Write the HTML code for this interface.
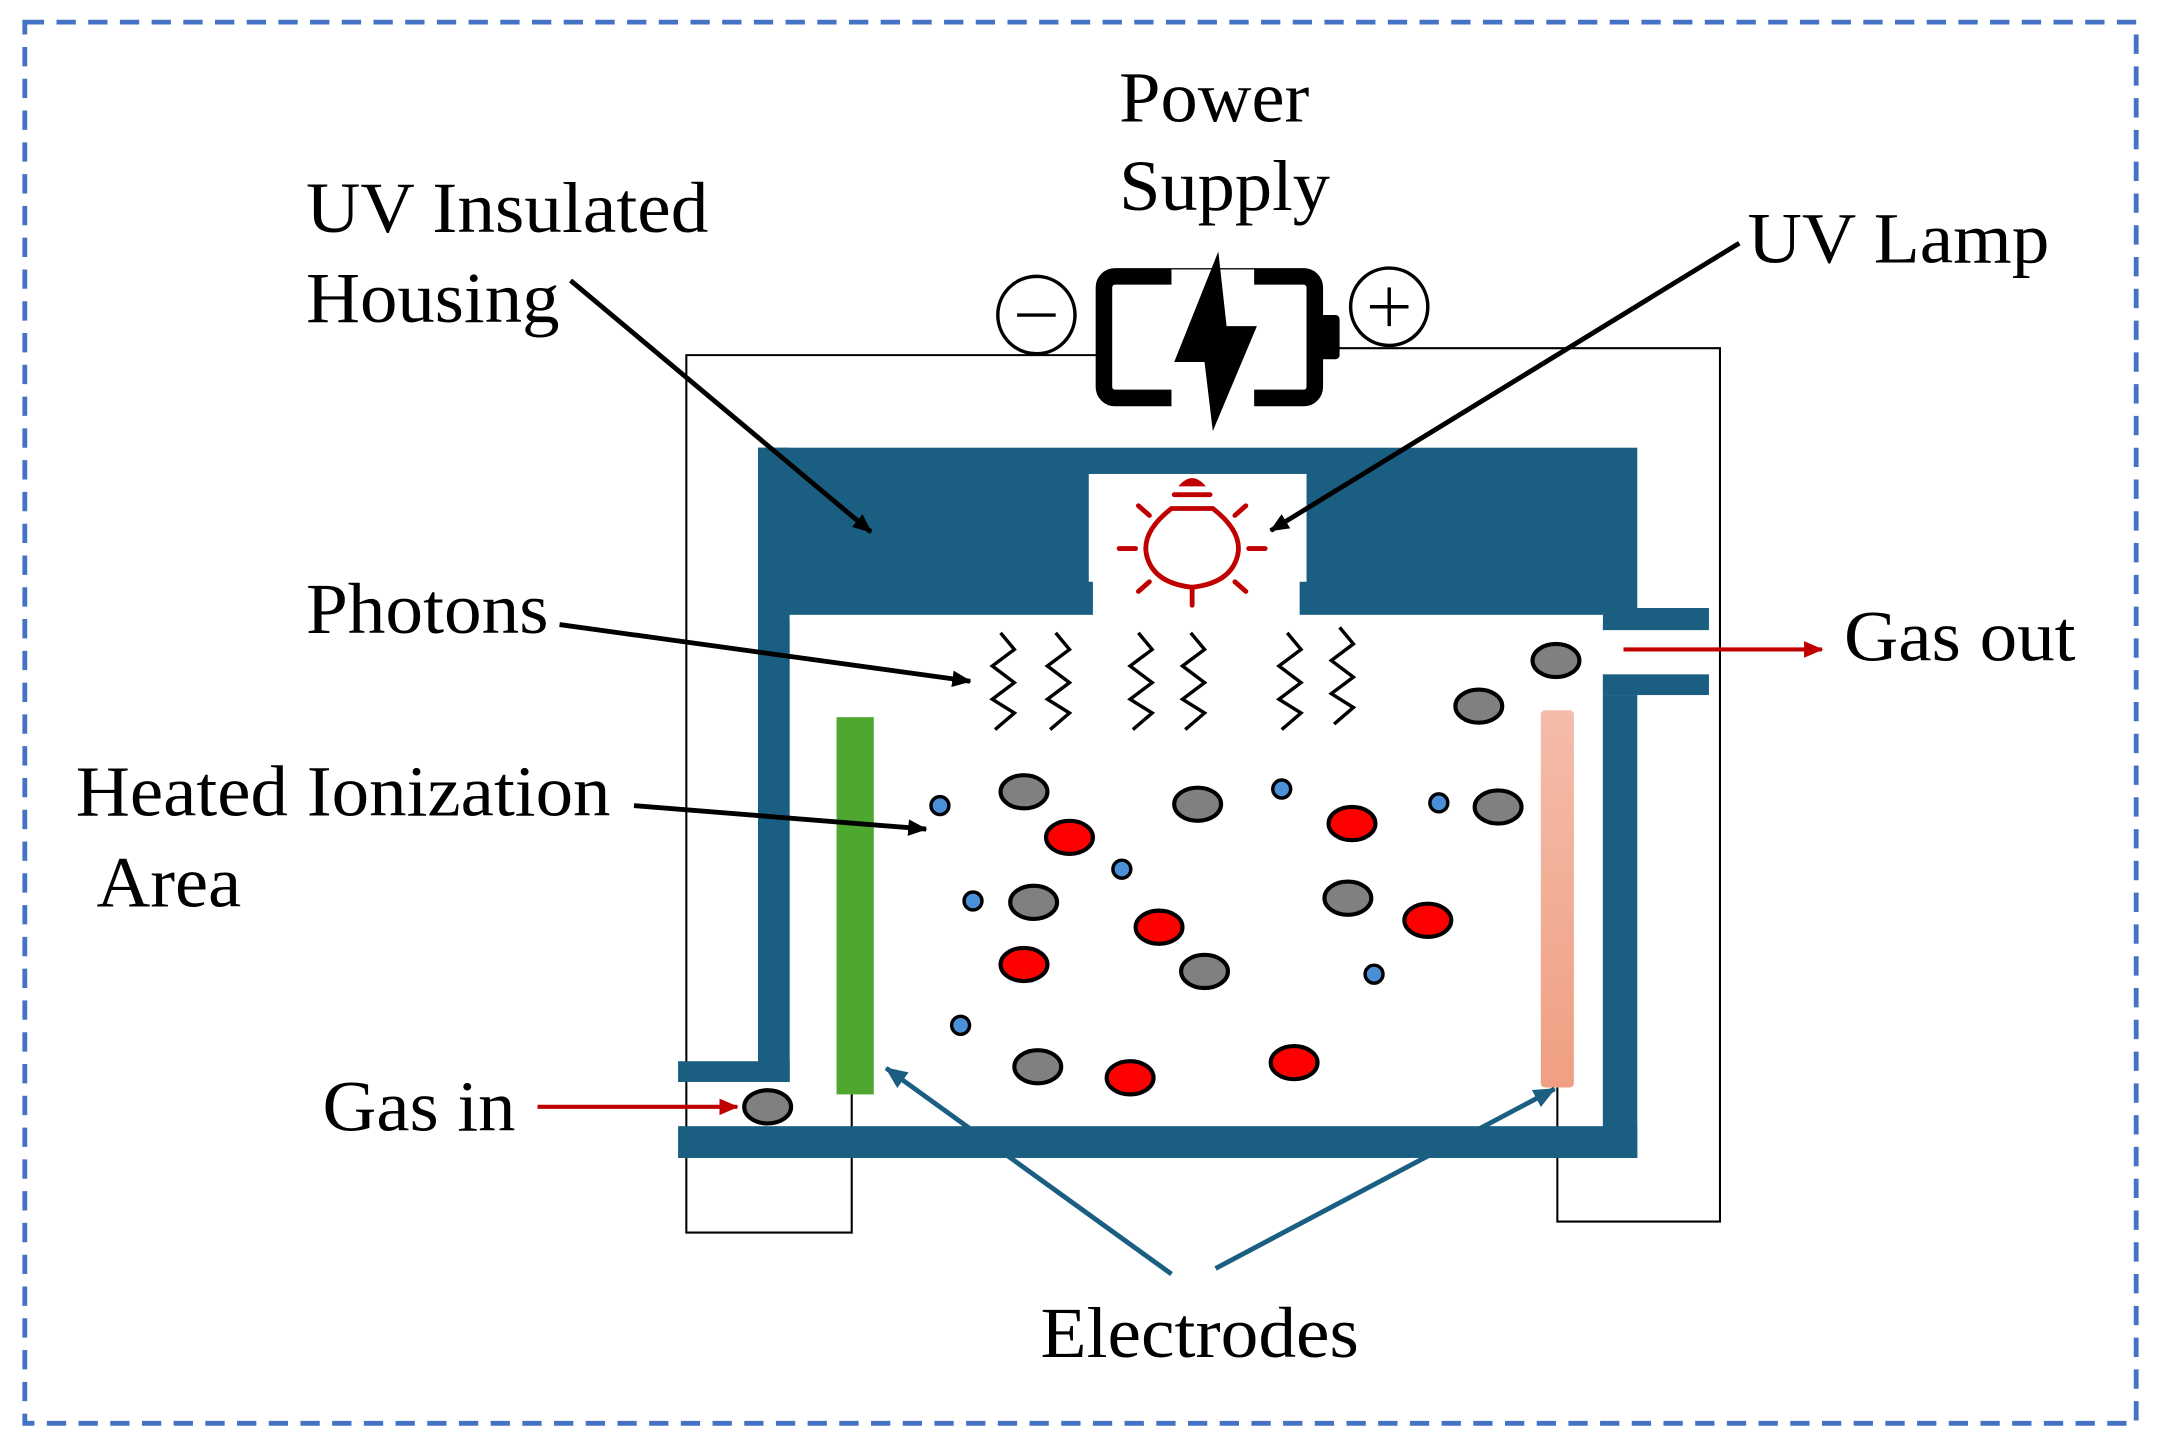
<!DOCTYPE html>
<html><head><meta charset="utf-8"><style>
html,body{margin:0;padding:0;background:#fff;}
svg{display:block;}
text{font-family:"Liberation Serif",serif;font-size:52px;fill:#000;}
</style></head><body>
<svg width="2161" height="1444" viewBox="0 0 1568 1045" preserveAspectRatio="none" xmlns="http://www.w3.org/2000/svg">
<defs>
<marker id="ab" markerWidth="14" markerHeight="12" refX="13" refY="6" orient="auto" markerUnits="userSpaceOnUse"><path d="M0,0 L14,6 L0,12 z" fill="#000"/></marker>
<marker id="ar" markerWidth="14" markerHeight="12" refX="13" refY="6" orient="auto" markerUnits="userSpaceOnUse"><path d="M0,0 L14,6 L0,12 z" fill="#c00000"/></marker>
<marker id="abl" markerWidth="16" markerHeight="14" refX="15" refY="7" orient="auto" markerUnits="userSpaceOnUse"><path d="M0,0 L16,7 L0,14 z" fill="#1a5f82"/></marker>
<linearGradient id="pg" x1="0" y1="0" x2="0" y2="1"><stop offset="0" stop-color="#f4bcaa"/><stop offset="1" stop-color="#f09f82"/></linearGradient>
</defs>
<rect x="18" y="16" width="1532" height="1014" fill="none" stroke="#4472C4" stroke-width="3.5" stroke-dasharray="14,9"/>
<g fill="none" stroke="#000" stroke-width="1.5">
<polyline points="798,257 498,257 498,892 618,892 618,790"/>
<polyline points="960,252 1248,252 1248,884 1130,884 1130,785"/>
</g>
<g fill="#1a5f82">
<rect x="550" y="324" width="638" height="121"/>
<rect x="550" y="324" width="23" height="459"/>
<rect x="492" y="768" width="81" height="15"/>
<rect x="492" y="815" width="696" height="23"/>
<rect x="1163" y="503" width="25" height="335"/>
<rect x="1163" y="440" width="77" height="16"/>
<rect x="1163" y="488" width="77" height="15"/>
</g>
<rect x="790" y="343" width="158" height="78" fill="#fff"/>
<rect x="793" y="420" width="150" height="26" fill="#fff"/>
<rect x="573" y="445" width="590" height="5" fill="#fff"/>
<g stroke="#c00000" stroke-width="3.5" fill="none" stroke-linecap="round">
<path d="M850,368 L880,368 Q902,385 898,402 Q893,422 865,425 Q837,422 832,402 Q828,385 850,368 z"/>
<line x1="852" y1="358" x2="878" y2="358"/>
<line x1="865" y1="425" x2="865" y2="438"/>
<line x1="812" y1="397" x2="824" y2="397"/><line x1="906" y1="397" x2="918" y2="397"/>
<line x1="826" y1="366" x2="834" y2="373"/><line x1="904" y1="366" x2="896" y2="373"/>
<line x1="826" y1="428" x2="834" y2="421"/><line x1="904" y1="428" x2="896" y2="421"/>
</g>
<path d="M855,352 Q865,340 875,352 z" fill="#c00000"/>
<rect x="801" y="200" width="153" height="88" rx="8" fill="none" stroke="#000" stroke-width="12"/>
<rect x="954" y="228" width="18" height="32" rx="3" fill="#000"/>
<rect x="850" y="195" width="60" height="100" fill="#fff"/>
<path d="M884,182 L852,262 L874,262 L880,312 L912,236 L890,236 z" fill="#000"/>
<circle cx="752" cy="228" r="28" fill="#fff" stroke="#000" stroke-width="2.5"/>
<line x1="738" y1="228" x2="766" y2="228" stroke="#000" stroke-width="2.5"/>
<circle cx="1008" cy="222" r="28" fill="#fff" stroke="#000" stroke-width="2.5"/>
<line x1="994" y1="222" x2="1022" y2="222" stroke="#000" stroke-width="2.5"/>
<line x1="1008" y1="208" x2="1008" y2="236" stroke="#000" stroke-width="2.5"/>
<rect x="607" y="519" width="27" height="273" fill="#4ea72e"/>
<rect x="1118" y="514" width="24" height="273" rx="3" fill="url(#pg)"/>
<g fill="none" stroke="#000" stroke-width="2.5">
<polyline points="726,458 736,470 720,482 736,494 720,506 736,516 722,528"/>
<polyline points="766,458 776,470 760,482 776,494 760,506 776,516 762,528"/>
<polyline points="826,458 836,470 820,482 836,494 820,506 836,516 822,528"/>
<polyline points="864,458 874,470 858,482 874,494 858,506 874,516 860,528"/>
<polyline points="934,458 944,470 928,482 944,494 928,506 944,516 930,528"/>
<polyline points="972,454 982,466 966,478 982,490 966,502 982,512 968,524"/>
</g>
<g fill="#808080" stroke="#000" stroke-width="3">
<ellipse cx="743" cy="573" rx="17" ry="12"/><ellipse cx="869" cy="582" rx="17" ry="12"/>
<ellipse cx="1087" cy="584" rx="17" ry="12"/><ellipse cx="750" cy="653" rx="17" ry="12"/>
<ellipse cx="978" cy="650" rx="17" ry="12"/><ellipse cx="874" cy="703" rx="17" ry="12"/>
<ellipse cx="753" cy="772" rx="17" ry="12"/><ellipse cx="1073" cy="511" rx="17" ry="12"/>
<ellipse cx="1129" cy="478" rx="17" ry="12"/><ellipse cx="557" cy="801" rx="17" ry="12"/>
</g>
<g fill="#ff0000" stroke="#000" stroke-width="3">
<ellipse cx="776" cy="606" rx="17" ry="12"/><ellipse cx="981" cy="596" rx="17" ry="12"/>
<ellipse cx="841" cy="671" rx="17" ry="12"/><ellipse cx="1036" cy="666" rx="17" ry="12"/>
<ellipse cx="743" cy="698" rx="17" ry="12"/><ellipse cx="820" cy="780" rx="17" ry="12"/>
<ellipse cx="939" cy="769" rx="17" ry="12"/>
</g>
<g fill="#4a90d9" stroke="#000" stroke-width="2.5">
<circle cx="682" cy="583" r="6.5"/><circle cx="930" cy="571" r="6.5"/><circle cx="1044" cy="581" r="6.5"/>
<circle cx="814" cy="629" r="6.5"/><circle cx="706" cy="652" r="6.5"/><circle cx="997" cy="705" r="6.5"/>
<circle cx="697" cy="742" r="6.5"/>
</g>
<g stroke="#000" stroke-width="3.5" marker-end="url(#ab)">
<line x1="414" y1="203" x2="632" y2="385"/>
<line x1="406" y1="452" x2="704" y2="493"/>
<line x1="460" y1="583" x2="672" y2="600"/>
<line x1="1262" y1="176" x2="922" y2="384"/>
</g>
<g stroke="#c00000" stroke-width="3" marker-end="url(#ar)">
<line x1="390" y1="801" x2="535" y2="801"/>
<line x1="1178" y1="470" x2="1322" y2="470"/>
</g>
<g stroke="#1a5f82" stroke-width="3.5" marker-end="url(#abl)">
<line x1="850" y1="922" x2="643" y2="773"/>
<line x1="882" y1="918" x2="1128" y2="788"/>
</g>
<g lengthAdjust="spacingAndGlyphs">
<text x="812" y="88" textLength="138" lengthAdjust="spacingAndGlyphs">Power</text>
<text x="812" y="152" textLength="153" lengthAdjust="spacingAndGlyphs">Supply</text>
<text x="222" y="168" textLength="292" lengthAdjust="spacingAndGlyphs">UV Insulated</text>
<text x="222" y="233" textLength="184" lengthAdjust="spacingAndGlyphs">Housing</text>
<text x="1268" y="190" textLength="219" lengthAdjust="spacingAndGlyphs">UV Lamp</text>
<text x="222" y="458" textLength="176" lengthAdjust="spacingAndGlyphs">Photons</text>
<text x="55" y="590" textLength="388" lengthAdjust="spacingAndGlyphs">Heated Ionization</text>
<text x="70" y="656" textLength="105" lengthAdjust="spacingAndGlyphs">Area</text>
<text x="234" y="818" textLength="140" lengthAdjust="spacingAndGlyphs">Gas in</text>
<text x="1338" y="478" textLength="168" lengthAdjust="spacingAndGlyphs">Gas out</text>
<text x="755" y="982" textLength="231" lengthAdjust="spacingAndGlyphs">Electrodes</text>
</g>
</svg>
</body></html>
